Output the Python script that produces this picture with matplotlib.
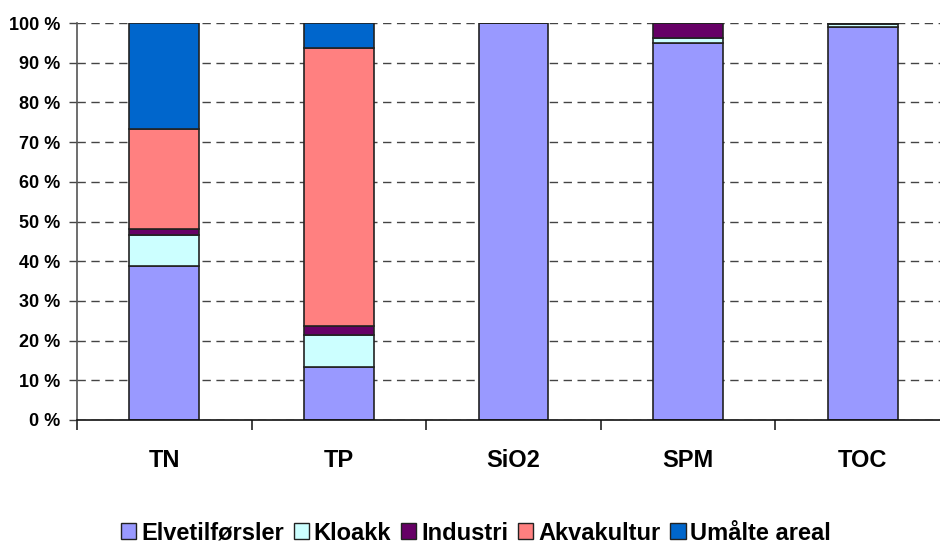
import matplotlib
matplotlib.use("Agg")
import matplotlib.pyplot as plt
import numpy as np

categories = ["TN", "TP", "SiO2", "SPM", "TOC"]
series_names = ["Elvetilførsler", "Kloakk", "Industri", "Akvakultur", "Umålte areal"]
elvetilforsler = [38.8, 13.3, 100.0, 95.0, 99.1]
kloakk = [7.7, 8.1, 0.0, 1.2, 0.7]
industri = [1.6, 2.3, 0.0, 3.8, 0.2]
akvakultur = [25.1, 70.0, 0.0, 0.0, 0.0]
umalte = [26.8, 6.3, 0.0, 0.0, 0.0]
yticks = [0, 10, 20, 30, 40, 50, 60, 70, 80, 90, 100]
ytick_labels = [f"{v} %" for v in yticks]

colors = ["#9999FF", "#CCFFFF", "#660066", "#FF8080", "#0066CC"]
series = [elvetilforsler, kloakk, industri, akvakultur, umalte]

plt.rcParams['font.family'] = ['Liberation Sans', 'DejaVu Sans']
plt.rcParams['font.weight'] = 'bold'

fig = plt.figure(figsize=(9.4, 5.43), dpi=100)
ax = fig.add_axes([77/940, 1-420/543, 873/940, 397/543])

x = np.arange(len(categories))
bottom = np.zeros(len(categories))
handles = []
for vals, c, name in zip(series, colors, series_names):
    v = np.array(vals)
    b = ax.bar(x, v, width=0.40, bottom=bottom, color=c, edgecolor="#222222",
               linewidth=1.2, label=name, zorder=3)
    handles.append(b)
    bottom += v

ax.set_xlim(-0.5, 4.5)
ax.set_ylim(0, 100)
ax.set_yticks(yticks)
ax.set_yticklabels(ytick_labels, fontsize=13, fontweight='bold')
ax.set_xticks(x)
ax.set_xticklabels(categories, fontsize=17, fontweight='bold')
ax.tick_params(axis='x', which='major', length=0, pad=21)
ax.set_xticks(np.arange(-0.5, 5.0, 1.0), minor=True)
ax.tick_params(axis='x', which='minor', length=7, direction='out', width=1.2, color='#222222')
ax.tick_params(axis='y', length=6, direction='out', width=1.0, color='#444444', pad=6)

ax.yaxis.grid(True, linestyle=(0, (6, 4)), color='#444444', linewidth=1.0, zorder=0)
for s in ['top', 'right']:
    ax.spines[s].set_visible(False)
ax.spines['left'].set_color('#555555')
ax.spines['left'].set_linewidth(1.2)
ax.spines['bottom'].set_color('#111111')
ax.spines['bottom'].set_linewidth(1.2)
ax.spines['bottom'].set_zorder(4)

leg = fig.legend(handles=handles, labels=series_names, loc='center',
                 bbox_to_anchor=(476/940, 1-533/543), ncol=5, frameon=False,
                 prop={'family': ['Liberation Sans'], 'weight': 'bold', 'size': 17},
                 handlelength=0.65, handleheight=0.65, handletextpad=0.2, columnspacing=0.42,
                 borderaxespad=0)
for p in leg.get_patches():
    p.set_linewidth(1.0)

fig.savefig("out.png", dpi=100)
